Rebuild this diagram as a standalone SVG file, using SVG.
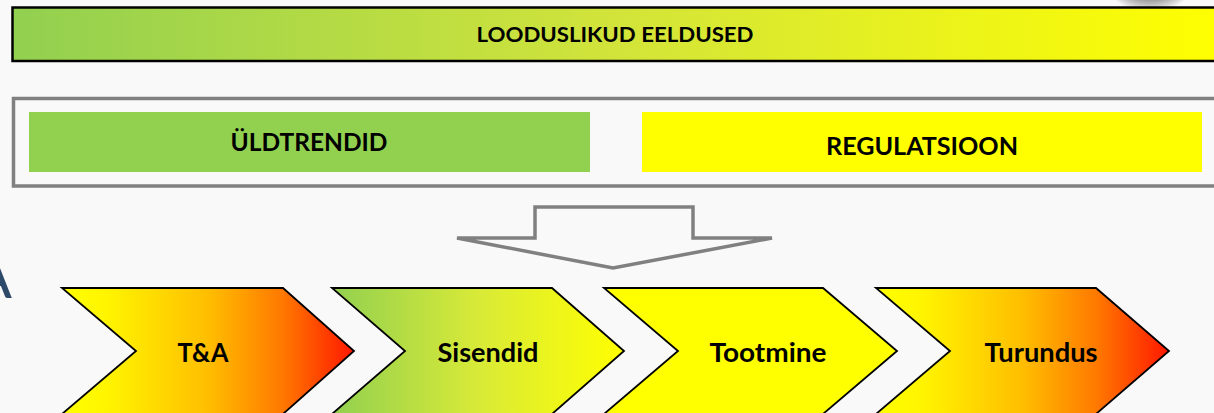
<svg xmlns="http://www.w3.org/2000/svg" width="1214" height="413" viewBox="0 0 1214 413">
<style>
.lbl{font-family:Lato,"Open Sans","Liberation Sans",sans-serif;font-weight:bold;fill:#000;text-anchor:middle}
.chev{stroke:#000;stroke-width:1.8;stroke-linejoin:miter}
.frame{fill:none;stroke:#808080;stroke-width:3.5}
</style>
<defs>
<linearGradient id="gTop" x1="0" y1="0" x2="1" y2="0">
<stop offset="0" stop-color="#92D050"/>
<stop offset="0.5" stop-color="#D2E43A"/>
<stop offset="1" stop-color="#FFFF00"/>
</linearGradient>
<linearGradient id="gHot" x1="0" y1="0" x2="1" y2="0">
<stop offset="0" stop-color="#FFFF00"/>
<stop offset="0.15" stop-color="#FFF500"/>
<stop offset="0.5" stop-color="#FFBE00"/>
<stop offset="0.75" stop-color="#FF7A00"/>
<stop offset="1" stop-color="#FF1800"/>
</linearGradient>
<linearGradient id="gGreen" x1="0" y1="0" x2="1" y2="0">
<stop offset="0" stop-color="#92D050"/>
<stop offset="0.5" stop-color="#D8EA38"/>
<stop offset="1" stop-color="#FFFF00"/>
</linearGradient>
<radialGradient id="gBall" cx="0.5" cy="0.5" r="0.5">
<stop offset="0" stop-color="#505050"/>
<stop offset="0.7" stop-color="#9A9A9A"/>
<stop offset="1" stop-color="#F4F4F4"/>
</radialGradient>
</defs>
<rect x="0" y="0" width="1214" height="413" fill="#F9F9F9"/>
<ellipse cx="1150" cy="-30" rx="50" ry="42" fill="url(#gBall)"/>
<text x="12" y="298" font-family="Lato,'Liberation Sans',sans-serif" font-size="62" fill="#2E4A6B" text-anchor="end">A</text>

<g id="looduslikud">
<rect x="12.5" y="7.5" width="1210" height="53.5" fill="url(#gTop)" stroke="#000" stroke-width="2.5"/>
<text class="lbl" x="615" y="42" font-size="20" textLength="277" lengthAdjust="spacingAndGlyphs">LOODUSLIKUD EELDUSED</text>
</g>

<g id="raam">
<rect class="frame" x="13.5" y="98.5" width="1210" height="87.5"/>
</g>

<g id="uldtrendid">
<rect x="29" y="112" width="561" height="60" fill="#92D050"/>
<text class="lbl" x="309" y="151" font-size="25" textLength="157" lengthAdjust="spacingAndGlyphs">ÜLDTRENDID</text>
</g>

<g id="regulatsioon">
<rect x="642" y="112" width="560" height="60" fill="#FFFF00"/>
<text class="lbl" x="922" y="155" font-size="24" textLength="192" lengthAdjust="spacingAndGlyphs">REGULATSIOON</text>
</g>

<g id="connectors">
<polygon points="535,207 693,207 693,238 772,238 613,268 457,238 535,238" fill="none" stroke="#808080" stroke-width="3.5" stroke-linejoin="miter"/>
</g>

<g id="ta">
<polygon class="chev" points="62,288 283,288 354,351 283,414 62,414 136,351" fill="url(#gHot)"/>
<text class="lbl" x="203" y="362" font-size="26" textLength="51" lengthAdjust="spacingAndGlyphs">T&amp;A</text>
</g>

<g id="sisendid">
<polygon class="chev" points="332,288 552,288 624,351 552,414 332,414 405,351" fill="url(#gGreen)"/>
<text class="lbl" x="488" y="362" font-size="26" textLength="101" lengthAdjust="spacingAndGlyphs">Sisendid</text>
</g>

<g id="tootmine">
<polygon class="chev" points="604,288 823,288 897,351 823,414 604,414 678,351" fill="#FFFF00"/>
<text class="lbl" x="768" y="362" font-size="26" textLength="117" lengthAdjust="spacingAndGlyphs">Tootmine</text>
</g>

<g id="turundus">
<polygon class="chev" points="876,288 1096,288 1169,351 1096,414 876,414 950,351" fill="url(#gHot)"/>
<text class="lbl" x="1041" y="362" font-size="26" textLength="113" lengthAdjust="spacingAndGlyphs">Turundus</text>
</g>
</svg>
